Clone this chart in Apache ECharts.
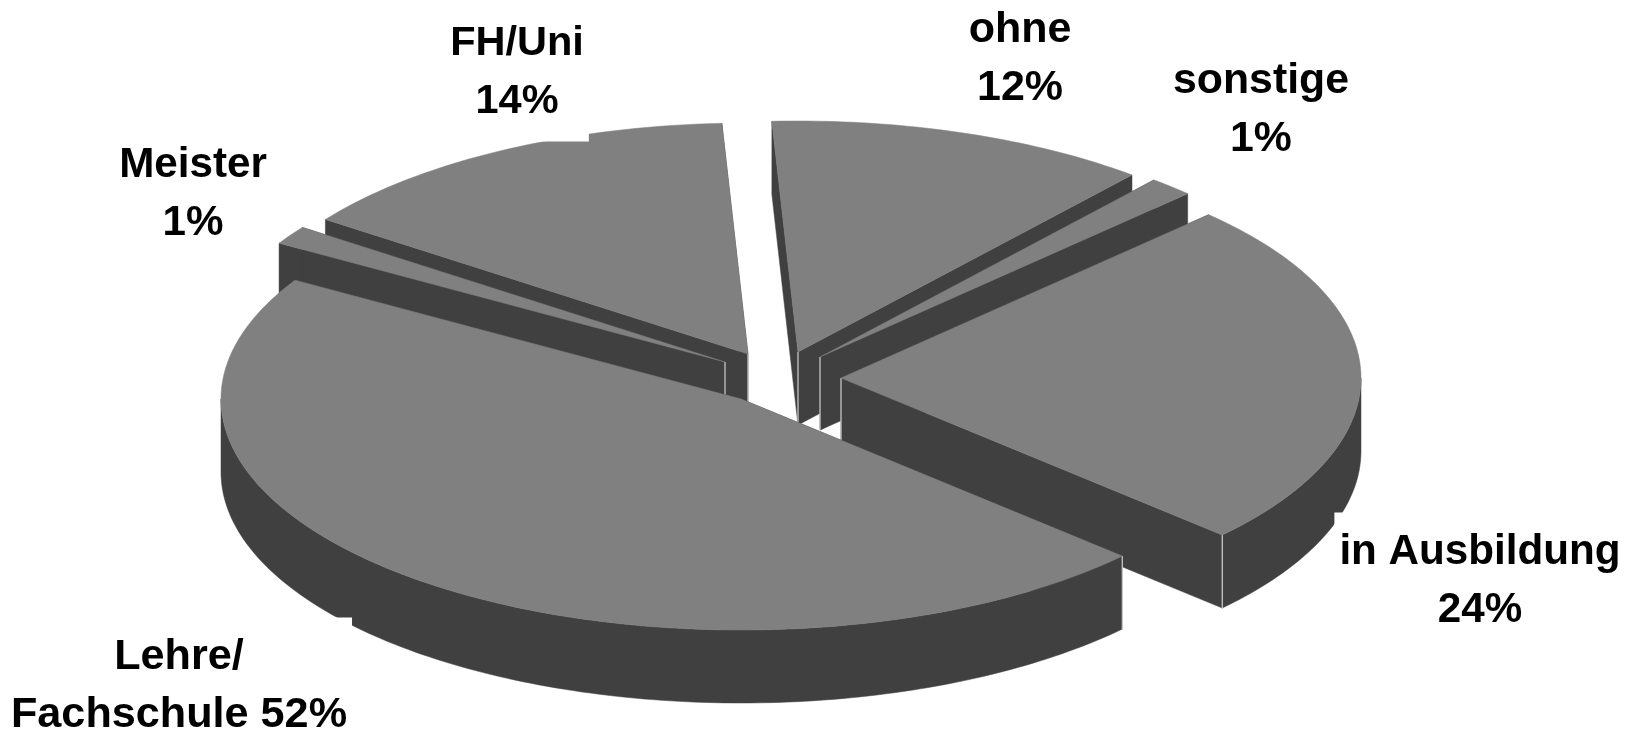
<!DOCTYPE html>
<html>
<head>
<meta charset="utf-8">
<style>html,body{margin:0;padding:0;background:#fff}#c{width:1638px;height:732px}</style>
<script src="https://cdn.jsdelivr.net/npm/echarts@6/dist/echarts.min.js"></script>
</head>
<body>
<div id="c"></div>
<script>
// Slices in clockwise order from the right-hand slice.
var categories = ['in Ausbildung', 'Lehre/\nFachschule', 'Meister', 'FH/Uni', 'ohne', 'sonstige'];
// Percentages printed on the chart (they sum to 104).
var printedPercent = [24, 52, 1, 14, 12, 1];
// Share of the circle each slice actually occupies.
var drawnShare = [24.4, 46.7, 1.3, 14.3, 11.9, 1.4];
var separators = ['\n', ' ', '\n', '\n', '\n', '\n'];

// Layout, separate from the data
var START_DEG = -45, RX = 520, RY = 231, DEPTH = 73;
var apexes = [[841, 378], [741, 399], [725, 362], [748, 354], [798, 352], [820, 357]];
var paintRank = [4, 5, 3, 0, 1, 2];
var labelCentres = [[1480, 581], [179, 686], [193, 194], [517, 73], [1020, 59], [1261, 110]];
var labelFontSizes = [42.2, 43.2, 42.2, 41.5, 43, 42.8];
var TOP = '#808080', SIDE = '#404040', EDGE = '#d0d0d0';

var total = drawnShare.reduce(function (a, b) { return a + b; }, 0);
function sliceRange(i) {
  var before = 0;
  for (var k = 0; k < i; k++) before += drawnShare[k];
  var t1 = START_DEG + before / total * 360;
  return [t1, t1 + drawnShare[i] / total * 360];
}
function rimPoint(c, deg, drop) {
  var r = deg * Math.PI / 180;
  return [c[0] + RX * Math.cos(r), c[1] + RY * Math.sin(r) + drop];
}
function arcPoints(c, a, b, drop) {
  var pts = [];
  for (var d = a; d < b; d += 1) pts.push(rimPoint(c, d, drop));
  pts.push(rimPoint(c, b, drop));
  return pts;
}
function poly(points, fill, z2) {
  return { type: 'polygon', z2: z2, shape: { points: points }, style: { fill: fill, stroke: fill, lineWidth: 0.5 } };
}
function vline(p, z2) {
  return { type: 'line', z2: z2, shape: { x1: p[0], y1: p[1], x2: p[0], y2: p[1] + DEPTH }, style: { stroke: EDGE, lineWidth: 1.2 } };
}
function renderSlice(params, api) {
  var i = api.value(0);
  var range = sliceRange(i), t1 = range[0], t2 = range[1];
  var c = apexes[i], base = paintRank[i] * 10;
  var children = [];
  [t1, t2].forEach(function (t) {
    var p = rimPoint(c, t, 0);
    children.push(poly([c, p, [p[0], p[1] + DEPTH], [c[0], c[1] + DEPTH]], SIDE, base + 1));
  });
  var from = Math.max(t1, 0), to = Math.min(t2, 180);
  if (to > from) {
    children.push(poly(arcPoints(c, from, to, 0).concat(arcPoints(c, from, to, DEPTH).reverse()), SIDE, base + 2));
  }
  children.push(vline(c, base + 3));
  [t1, t2].forEach(function (t) {
    if (Math.sin(t * Math.PI / 180) > 0) children.push(vline(rimPoint(c, t, 0), base + 3));
  });
  children.push(poly([c].concat(arcPoints(c, t1, t2, 0)), TOP, base + 4));
  children.push({
    type: 'text', z2: 100, x: labelCentres[i][0], y: labelCentres[i][1],
    style: {
      text: categories[i] + separators[i] + printedPercent[i] + '%',
      fontFamily: '"Liberation Sans", Arial, sans-serif', fontWeight: 'bold', fontSize: labelFontSizes[i], lineHeight: 58,
      fill: '#000', align: 'center', verticalAlign: 'middle',
      backgroundColor: '#fff', padding: [9, 5, 12, 5]
    }
  });
  return { type: 'group', children: children };
}
var chart = echarts.init(document.getElementById('c'), null, { renderer: 'canvas' });
chart.setOption({
  backgroundColor: '#fff',
  animation: false,
  series: [{
    type: 'custom',
    coordinateSystem: 'none',
    renderItem: renderSlice,
    silent: true,
    data: drawnShare.map(function (v, i) { return [i, v]; })
  }]
});
</script>
</body>
</html>
